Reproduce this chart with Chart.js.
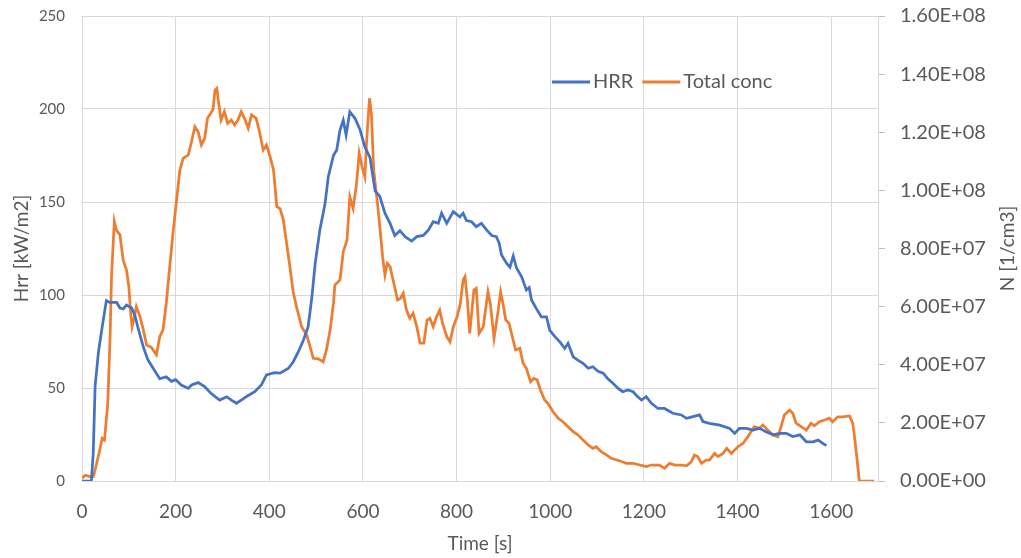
<!DOCTYPE html>
<html>
<head>
<meta charset="utf-8">
<script src="https://cdn.jsdelivr.net/npm/chart.js@4/dist/chart.umd.min.js"></script>
<style>
  html, body { margin: 0; padding: 0; background: #fff; }
  #wrap { width: 1021px; height: 558px; position: relative; }
</style>
</head>
<body>
<div id="wrap"><canvas id="mainChart"></canvas></div>
<script>
// HRR curve (time in s, Hrr in kW/m2)
const hrrTime = [0, 20, 24, 28, 35, 42, 52, 59, 74, 81, 88, 95, 106, 113, 120, 131, 141, 156, 166, 180,
  191, 200, 212, 227, 234, 248, 262, 276, 294, 309, 319, 330, 340, 355, 369, 383, 394, 411, 423, 441,
  451, 462, 473, 483, 491, 498, 508, 519, 526, 537, 544, 551, 558, 564, 572, 583, 594, 604, 615, 626,
  636, 647, 658, 668, 679, 690, 704, 715, 729, 740, 750, 761, 768, 779, 793, 807, 814, 821, 832, 842,
  853, 864, 875, 885, 891, 896, 907, 914, 921, 928, 939, 949, 955, 960, 970, 981, 992, 999, 1010, 1020,
  1031, 1038, 1049, 1059, 1070, 1081, 1091, 1102, 1113, 1123, 1134, 1145, 1155, 1166, 1177, 1184, 1195, 1205, 1216, 1230,
  1244, 1262, 1280, 1291, 1305, 1319, 1326, 1340, 1362, 1383, 1394, 1404, 1419, 1433, 1447, 1461, 1476, 1490, 1504, 1518,
  1533, 1547, 1561, 1572, 1582, 1590];
const hrrValue = [0, 0, 15, 51, 69, 81, 97, 96, 96, 93, 92.5, 94.6, 93, 89, 82, 72, 65, 59, 55, 56,
  53.6, 54.5, 51.6, 49.8, 51.6, 52.9, 50.7, 47, 43.5, 45.3, 43.5, 41.8, 43.5, 46, 48, 51.6, 57, 58.2, 58, 60.6,
  64, 69.5, 75.8, 83, 99, 117, 135, 149, 163.6, 175, 178, 188.7, 194, 186, 198.5, 195, 188.7, 179.7, 174, 156,
  153, 144, 138.5, 132, 134.6, 131.4, 129, 131.4, 132, 135, 139.4, 138.5, 144, 138.5, 144.8, 142, 144, 140, 139.4, 136.7,
  138.5, 135, 132, 131.4, 127.8, 121.5, 117, 115, 121, 114.5, 109.8, 102.7, 104, 97.3, 92.8, 88.3, 88.3, 81, 77.6, 74.9,
  71.3, 74, 66.8, 65, 63.3, 60.6, 61.4, 59, 58, 55, 52.5, 49.8, 48, 49, 48, 46, 43.5, 45.3, 41.8, 39,
  39, 36.4, 35.5, 33.7, 34.6, 35.5, 32, 31, 30, 28.3, 25.6, 28.3, 28.3, 27.4, 28.3, 26.5, 24.8, 25.6, 25.6, 23.9,
  24.8, 21.1, 21.1, 22, 20.2, 19];

// Total particle concentration (time in s, N in 1/cm3)
const concTime = [0, 7, 17, 24, 28, 38, 43, 48, 55, 60, 63, 69, 73, 81, 88, 95, 100, 104, 107, 112,
  116, 124, 131, 138, 148, 159, 166, 173, 180, 188, 195, 202, 209, 216, 227, 234, 241, 248, 255, 262,
  268, 275, 280, 284, 288, 291, 297, 304, 311, 319, 326, 333, 340, 347, 355, 362, 372, 379, 387, 394,
  401, 409, 416, 423, 430, 437, 444, 451, 458, 469, 480, 487, 494, 505, 515, 522, 530, 537, 540, 551,
  558, 566, 572, 579, 586, 592, 598, 604, 608, 614, 618, 623, 631, 636, 642, 647, 652, 658, 666, 674,
  680, 686, 693, 700, 707, 715, 722, 730, 737, 743, 750, 757, 764, 770, 779, 786, 793, 801, 808, 814,
  818, 823, 828, 837, 842, 848, 857, 867, 872, 880, 889, 894, 899, 905, 912, 919, 926, 935, 942, 949,
  958, 965, 972, 979, 988, 995, 1006, 1017, 1027, 1038, 1049, 1059, 1070, 1081, 1091, 1098, 1109, 1120, 1130, 1141,
  1152, 1163, 1177, 1191, 1205, 1216, 1233, 1244, 1255, 1266, 1280, 1291, 1301, 1308, 1315, 1323, 1333, 1340, 1351, 1358,
  1369, 1377, 1387, 1394, 1401, 1412, 1422, 1429, 1436, 1447, 1454, 1465, 1476, 1486, 1493, 1500, 1511, 1518, 1525, 1536,
  1547, 1557, 1564, 1575, 1586, 1596, 1603, 1614, 1625, 1639, 1646, 1649, 1653, 1657, 1660, 1692];
const concValue = [0.09e7, 0.2e7, 0.15e7, 0.15e7, 0.38e7, 1.07e7, 1.47e7, 1.41e7, 2.67e7, 4.97e7, 7.03e7, 8.92e7, 8.64e7, 8.47e7, 7.6e7, 7.26e7, 6.69e7, 5.77e7, 5.31e7, 5.65e7,
  6.0e7, 5.65e7, 5.2e7, 4.68e7, 4.6e7, 4.34e7, 4.97e7, 5.2e7, 6.11e7, 7.49e7, 8.64e7, 9.67e7, 10.7e7, 11.1e7, 11.22e7, 11.68e7, 12.19e7, 12.02e7, 11.56e7, 11.79e7,
  12.48e7, 12.65e7, 12.8e7, 13.45e7, 13.51e7, 13.1e7, 12.42e7, 12.71e7, 12.31e7, 12.42e7, 12.25e7, 12.42e7, 12.71e7, 12.48e7, 12.14e7, 12.6e7, 12.48e7, 12.02e7, 11.39e7, 11.56e7,
  11.2e7, 10.7e7, 9.44e7, 9.37e7, 8.98e7, 8.18e7, 7.37e7, 6.51e7, 6.0e7, 5.31e7, 5.02e7, 4.62e7, 4.22e7, 4.2e7, 4.1e7, 4.51e7, 5.2e7, 6.11e7, 6.74e7, 6.92e7,
  7.89e7, 8.29e7, 9.78e7, 9.38e7, 10.19e7, 11.28e7, 10.82e7, 10.47e7, 11.73e7, 13.17e7, 12.65e7, 10.7e7, 9.56e7, 8.75e7, 7.72e7, 7.09e7, 7.49e7, 7.37e7, 6.8e7, 6.23e7,
  6.28e7, 6.46e7, 5.88e7, 5.6e7, 5.77e7, 5.31e7, 4.74e7, 4.74e7, 5.54e7, 5.6e7, 5.31e7, 5.65e7, 5.88e7, 5.43e7, 4.97e7, 4.79e7, 5.31e7, 5.65e7, 6.11e7, 6.92e7,
  7.03e7, 6.23e7, 5.08e7, 6.57e7, 6.63e7, 5.08e7, 5.31e7, 6.51e7, 6.11e7, 4.91e7, 5.88e7, 6.51e7, 6.11e7, 5.54e7, 5.43e7, 4.97e7, 4.51e7, 4.57e7, 4.05e7, 3.88e7,
  3.42e7, 3.53e7, 3.48e7, 3.13e7, 2.79e7, 2.67e7, 2.38e7, 2.16e7, 2.04e7, 1.87e7, 1.7e7, 1.59e7, 1.41e7, 1.24e7, 1.12e7, 1.18e7, 1.01e7, 0.9e7, 0.78e7, 0.73e7,
  0.67e7, 0.61e7, 0.61e7, 0.55e7, 0.5e7, 0.55e7, 0.55e7, 0.44e7, 0.61e7, 0.55e7, 0.55e7, 0.52e7, 0.66e7, 0.89e7, 0.84e7, 0.61e7, 0.72e7, 0.72e7, 0.95e7, 0.84e7,
  0.95e7, 1.12e7, 0.95e7, 1.07e7, 1.18e7, 1.3e7, 1.52e7, 1.7e7, 1.87e7, 1.81e7, 1.93e7, 1.75e7, 1.58e7, 1.52e7, 1.87e7, 2.27e7, 2.44e7, 2.33e7, 1.99e7, 1.87e7,
  1.75e7, 1.99e7, 1.9e7, 2.04e7, 2.1e7, 2.16e7, 2.04e7, 2.21e7, 2.21e7, 2.24e7, 1.99e7, 1.64e7, 1.07e7, 0.49e7, 0, 0];

const seriesLabels = ['HRR', 'Total conc'];
const xTitle = 'Time [s]';
const leftTitle = 'Hrr [kW/m2]';
const rightTitle = 'N [1/cm3]';

const FONT = 'Lato, "Open Sans", sans-serif';
const TEXT = '#595959';
const GRID = '#d9d9d9';

// Excel style scientific label: 1.60E+08
const sci = (v) => {
    const [m, e] = Number(v).toExponential(2).split('e');
    return m + 'E' + e[0] + e.slice(1).padStart(2, '0');
};

// keep the plot area where the reference has it
const noPad = (s) => {
    s.paddingTop = 0;
    s.paddingBottom = 0;
    s.paddingLeft = 0;
    s.paddingRight = 0;
};

// legend inside the plot + right axis title reading upwards
const extras = {
    id: 'extras',
    afterDraw(chart) {
        const { ctx } = chart;
        ctx.save();
        ctx.font = '20px ' + FONT;
        ctx.textBaseline = 'middle';
        let x = 552;
        const y = 82;
        chart.data.datasets.forEach((ds) => {
            ctx.strokeStyle = ds.borderColor;
            ctx.lineWidth = 3;
            ctx.beginPath();
            ctx.moveTo(x, y);
            ctx.lineTo(x + 38, y);
            ctx.stroke();
            x += 41;
            ctx.fillStyle = TEXT;
            ctx.textAlign = 'left';
            ctx.fillText(ds.label, x, y);
            x += ctx.measureText(ds.label).width + 9;
        });
        ctx.font = '19px ' + FONT;
        ctx.translate(1008, chart.chartArea.top + (chart.chartArea.bottom - chart.chartArea.top) / 2);
        ctx.rotate(-Math.PI / 2);
        ctx.textAlign = 'center';
        ctx.fillText(rightTitle, 0, 0);
        ctx.restore();
    }
};

const ctx = document.getElementById('mainChart').getContext('2d');
new Chart(ctx, {
    type: 'line',
    data: {
        datasets: [
            {
                label: seriesLabels[0],
                data: hrrTime.map((t, i) => ({ x: t, y: hrrValue[i] })),
                yAxisID: 'y',
                borderColor: '#4472C4',
                borderWidth: 2.75,
                pointRadius: 0,
                tension: 0
            },
            {
                label: seriesLabels[1],
                data: concTime.map((t, i) => ({ x: t, y: concValue[i] })),
                yAxisID: 'y2',
                borderColor: '#ED7D31',
                borderWidth: 2.75,
                pointRadius: 0,
                tension: 0
            }
        ]
    },
    options: {
        responsive: true,
        maintainAspectRatio: false,
        animation: false,
        layout: { padding: { top: 16, left: 0, right: 0, bottom: 0 } },
        plugins: {
            legend: { display: false },
            tooltip: { enabled: false }
        },
        scales: {
            x: {
                type: 'linear',
                min: 0,
                max: 1700,
                grid: { color: GRID, drawTicks: false },
                border: { color: GRID },
                ticks: {
                    stepSize: 200,
                    includeBounds: false,
                    padding: 19,
                    color: TEXT,
                    font: { family: FONT, size: 19 },
                    maxRotation: 0,
                    callback: (v) => String(v)
                },
                title: {
                    display: true,
                    text: xTitle,
                    color: TEXT,
                    font: { family: FONT, size: 19 },
                    padding: { top: 0, bottom: 3 }
                },
                afterFit: (s) => { s.height = 77; noPad(s); }
            },
            y: {
                position: 'left',
                min: 0,
                max: 250,
                grid: { color: GRID, drawTicks: false },
                border: { color: GRID },
                ticks: {
                    stepSize: 50,
                    padding: 17,
                    color: TEXT,
                    font: { family: FONT, size: 15 }
                },
                title: {
                    display: true,
                    text: leftTitle,
                    color: TEXT,
                    font: { family: FONT, size: 19 },
                    padding: { top: 10, bottom: 0 }
                },
                afterFit: (s) => { s.width = 82; noPad(s); }
            },
            y2: {
                position: 'right',
                min: 0,
                max: 1.6e8,
                grid: { color: '#bfbfbf', drawOnChartArea: false, drawTicks: true, tickLength: 7 },
                border: { color: GRID },
                ticks: {
                    stepSize: 2e7,
                    padding: 15,
                    color: TEXT,
                    font: { family: FONT, size: 20 },
                    callback: (v) => sci(v)
                },
                afterFit: (s) => { s.width = 143; noPad(s); }
            }
        }
    },
    plugins: [extras]
});
</script>
</body>
</html>
